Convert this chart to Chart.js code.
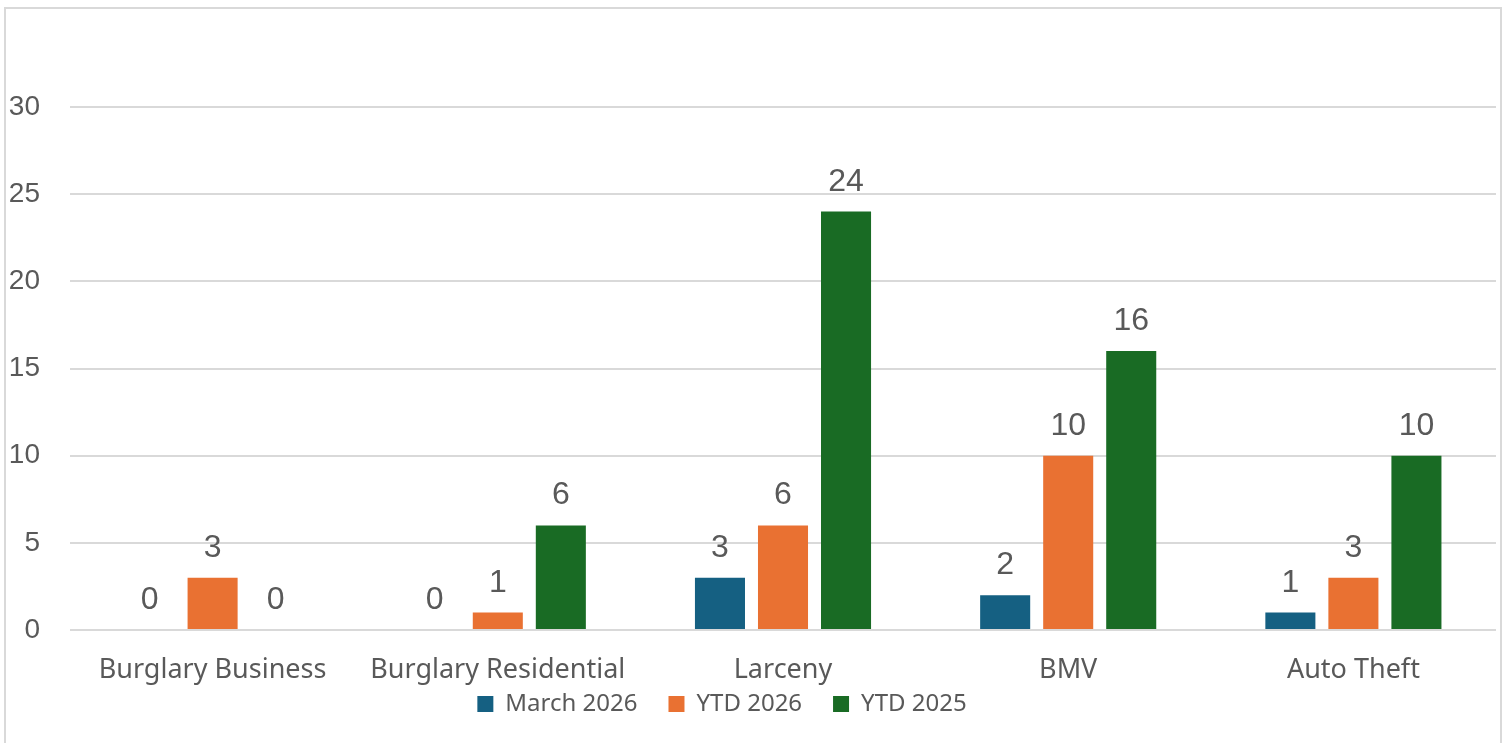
<!DOCTYPE html>
<html>
<head>
<meta charset="utf-8">
<script src="https://cdn.jsdelivr.net/npm/chart.js@4"></script>
<style>
  html, body { margin: 0; padding: 0; background: #fff; overflow: hidden; }
  #frame {
    position: absolute; left: 4px; top: 7px; width: 1498px; height: 745px;
    border: 2px solid #d9d9d9; box-sizing: border-box;
  }
  #wrap { position: absolute; left: 0; top: 0; width: 1512px; height: 743px; }
</style>
</head>
<body>
<div id="frame"></div>
<div id="wrap"><canvas id="chart"></canvas></div>
<script>
// categories and series
const categories = ['Burglary Business', 'Burglary Residential', 'Larceny', 'BMV', 'Auto Theft'];
const march2026 = [0, 0, 3, 2, 1];
const ytd2026 = [3, 1, 6, 10, 3];
const ytd2025 = [0, 6, 24, 16, 10];
const yTicks = [0, 5, 10, 15, 20, 25, 30];

const textColor = '#595959';
const labelFont = '"Noto Sans", sans-serif';
const numberFont = '"Liberation Sans", Arial, sans-serif';

// draws the value above each bar
const valueLabels = {
    id: 'valueLabels',
    afterDatasetsDraw(chart) {
        const ctx = chart.ctx;
        ctx.save();
        ctx.fillStyle = textColor;
        ctx.font = '32px ' + numberFont;
        ctx.textAlign = 'center';
        ctx.textBaseline = 'alphabetic';
        chart.data.datasets.forEach((ds, i) => {
            chart.getDatasetMeta(i).data.forEach((bar, j) => {
                ctx.fillText(String(ds.data[j]), bar.x, bar.y - 21);
            });
        });
        ctx.restore();
    }
};

// legend sits a little left of centre in the original
const legendShift = {
    id: 'legendShift',
    afterLayout(chart) {
        chart.legend.right -= 52;
    }
};

new Chart(document.getElementById('chart'), {
    type: 'bar',
    data: {
        labels: categories,
        datasets: [
            { label: 'March 2026', data: march2026, backgroundColor: '#156082' },
            { label: 'YTD 2026', data: ytd2026, backgroundColor: '#E97132' },
            { label: 'YTD 2025', data: ytd2025, backgroundColor: '#196B24' }
        ]
    },
    options: {
        responsive: true,
        maintainAspectRatio: false,
        animation: false,
        datasets: {
            bar: { categoryPercentage: 0.663, barPercentage: 0.794 }
        },
        layout: { padding: { top: 107, right: 16, left: 0, bottom: 17 } },
        plugins: {
            legend: {
                position: 'bottom',
                labels: {
                    color: textColor,
                    font: { family: labelFont, size: 24 },
                    boxWidth: 16,
                    boxHeight: 16,
                    padding: 6,
                    generateLabels: chart => {
                        const items = Chart.defaults.plugins.legend.labels.generateLabels(chart);
                        items.forEach((it, i) => {
                            if (i < items.length - 1) it.text += '    ';
                        });
                        return items;
                    }
                }
            },
            tooltip: { enabled: false }
        },
        scales: {
            x: {
                afterFit: scale => { scale.height = 56; },
                grid: { display: false },
                border: { display: false },
                ticks: {
                    autoSkip: false,
                    maxRotation: 0,
                    color: textColor,
                    font: { family: labelFont, size: 27 },
                    padding: 16
                }
            },
            y: {
                min: 0,
                max: 30,
                afterBuildTicks: scale => { scale.ticks = yTicks.map(v => ({ value: v })); },
                afterFit: scale => { scale.width = 70; },
                grid: { color: '#d9d9d9', lineWidth: 2, drawTicks: false },
                border: { display: false },
                ticks: {
                    color: textColor,
                    font: { family: numberFont, size: 28 },
                    padding: 30
                }
            }
        }
    },
    plugins: [valueLabels, legendShift]
});
</script>
</body>
</html>
